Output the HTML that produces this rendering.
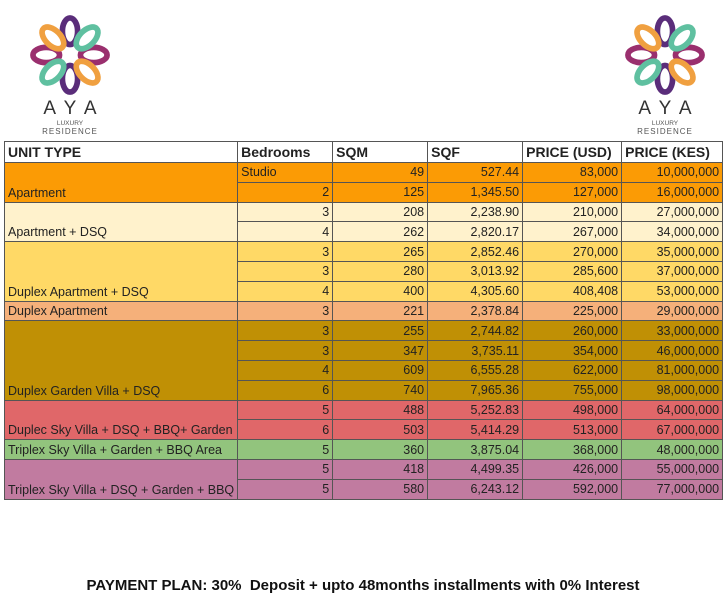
<!DOCTYPE html>
<html><head><meta charset="utf-8"><style>
html,body{margin:0;padding:0;background:#fff;width:726px;height:600px;overflow:hidden;font-family:"Liberation Sans",Arial,sans-serif;}
table{position:absolute;left:4px;top:141px;border-collapse:collapse;table-layout:fixed;font-size:12.5px;color:#222;}
td{border:1px solid #555;padding:0 3px;height:18.8px;line-height:18px;white-space:nowrap;overflow:hidden;}
td.n{text-align:right}
tr.h td{background:#fff;font-weight:bold;font-size:14px;height:20px;}
td.l{vertical-align:bottom;}
.o td{background:#fb9b05}.c td{background:#fff2cc}.y td{background:#ffd966}.p td{background:#f5b07a}
.ol td{background:#c09005}.r td{background:#e06769}.g td{background:#92c47d}.pu td{background:#c17ba0}
.logo{position:absolute;text-align:center;width:120px}
.aya{font-size:19px;letter-spacing:9px;color:#333;margin-left:9px}
.lux{font-size:6.5px;color:#555;line-height:7px}
.res{font-size:8px;letter-spacing:1px;color:#555;line-height:9px}
.pay{position:absolute;left:0;width:726px;top:577px;text-align:center;font-weight:bold;font-size:15px;color:#111}
</style></head><body>

<svg width="0" height="0" style="position:absolute"><defs>
<g id="fl" fill="none" stroke-width="6" stroke-linecap="round">
<ellipse cx="0" cy="-25" rx="8" ry="14" stroke="#5a2d7a"/>
<ellipse cx="0" cy="25" rx="8" ry="14" stroke="#5a2d7a"/>
<ellipse cx="-25" cy="0" rx="14" ry="8" stroke="#9a2f6e"/>
<ellipse cx="25" cy="0" rx="14" ry="8" stroke="#9a2f6e"/>
<ellipse cx="-18" cy="-18" rx="8" ry="14" transform="rotate(-45 -18 -18)" stroke="#f0a040"/>
<ellipse cx="18" cy="18" rx="8" ry="14" transform="rotate(-45 18 18)" stroke="#f0a040"/>
<ellipse cx="18" cy="-18" rx="8" ry="14" transform="rotate(45 18 -18)" stroke="#5fc0a0"/>
<ellipse cx="-18" cy="18" rx="8" ry="14" transform="rotate(45 -18 18)" stroke="#5fc0a0"/>
</g></defs></svg>
<svg style="position:absolute;left:25px;top:10px" width="90" height="90"><use href="#fl" transform="translate(45,45) scale(0.95)"/></svg>
<svg style="position:absolute;left:620px;top:10px" width="90" height="90"><use href="#fl" transform="translate(45,45) scale(0.95)"/></svg>
<div class="logo" style="left:10px;top:98px"><div class="aya">AYA</div><div class="lux">LUXURY</div><div class="res">RESIDENCE</div></div>
<div class="logo" style="left:605px;top:98px"><div class="aya">AYA</div><div class="lux">LUXURY</div><div class="res">RESIDENCE</div></div>

<table>
<colgroup><col style="width:233px"><col style="width:95px"><col style="width:95px"><col style="width:95px"><col style="width:99px"><col style="width:101px"></colgroup>
<tr class="h"><td>UNIT TYPE</td><td>Bedrooms</td><td>SQM</td><td>SQF</td><td>PRICE (USD)</td><td>PRICE (KES)</td></tr>
<tr class="o"><td class="l" rowspan="2">Apartment</td><td>Studio</td><td class="n">49</td><td class="n">527.44</td><td class="n">83,000</td><td class="n">10,000,000</td></tr>
<tr class="o"><td class="n">2</td><td class="n">125</td><td class="n">1,345.50</td><td class="n">127,000</td><td class="n">16,000,000</td></tr>
<tr class="c"><td class="l" rowspan="2">Apartment + DSQ</td><td class="n">3</td><td class="n">208</td><td class="n">2,238.90</td><td class="n">210,000</td><td class="n">27,000,000</td></tr>
<tr class="c"><td class="n">4</td><td class="n">262</td><td class="n">2,820.17</td><td class="n">267,000</td><td class="n">34,000,000</td></tr>
<tr class="y"><td class="l" rowspan="3">Duplex Apartment + DSQ</td><td class="n">3</td><td class="n">265</td><td class="n">2,852.46</td><td class="n">270,000</td><td class="n">35,000,000</td></tr>
<tr class="y"><td class="n">3</td><td class="n">280</td><td class="n">3,013.92</td><td class="n">285,600</td><td class="n">37,000,000</td></tr>
<tr class="y"><td class="n">4</td><td class="n">400</td><td class="n">4,305.60</td><td class="n">408,408</td><td class="n">53,000,000</td></tr>
<tr class="p"><td class="l">Duplex Apartment</td><td class="n">3</td><td class="n">221</td><td class="n">2,378.84</td><td class="n">225,000</td><td class="n">29,000,000</td></tr>
<tr class="ol"><td class="l" rowspan="4">Duplex Garden Villa + DSQ</td><td class="n">3</td><td class="n">255</td><td class="n">2,744.82</td><td class="n">260,000</td><td class="n">33,000,000</td></tr>
<tr class="ol"><td class="n">3</td><td class="n">347</td><td class="n">3,735.11</td><td class="n">354,000</td><td class="n">46,000,000</td></tr>
<tr class="ol"><td class="n">4</td><td class="n">609</td><td class="n">6,555.28</td><td class="n">622,000</td><td class="n">81,000,000</td></tr>
<tr class="ol"><td class="n">6</td><td class="n">740</td><td class="n">7,965.36</td><td class="n">755,000</td><td class="n">98,000,000</td></tr>
<tr class="r"><td class="l" rowspan="2">Duplec Sky Villa + DSQ + BBQ+ Garden</td><td class="n">5</td><td class="n">488</td><td class="n">5,252.83</td><td class="n">498,000</td><td class="n">64,000,000</td></tr>
<tr class="r"><td class="n">6</td><td class="n">503</td><td class="n">5,414.29</td><td class="n">513,000</td><td class="n">67,000,000</td></tr>
<tr class="g"><td class="l">Triplex Sky Villa + Garden + BBQ Area</td><td class="n">5</td><td class="n">360</td><td class="n">3,875.04</td><td class="n">368,000</td><td class="n">48,000,000</td></tr>
<tr class="pu"><td class="l" rowspan="2">Triplex Sky Villa + DSQ + Garden + BBQ</td><td class="n">5</td><td class="n">418</td><td class="n">4,499.35</td><td class="n">426,000</td><td class="n">55,000,000</td></tr>
<tr class="pu"><td class="n">5</td><td class="n">580</td><td class="n">6,243.12</td><td class="n">592,000</td><td class="n">77,000,000</td></tr>
</table>
<div class="pay">PAYMENT PLAN: 30%&nbsp; Deposit + upto 48months installments with 0% Interest</div>
</body></html>
